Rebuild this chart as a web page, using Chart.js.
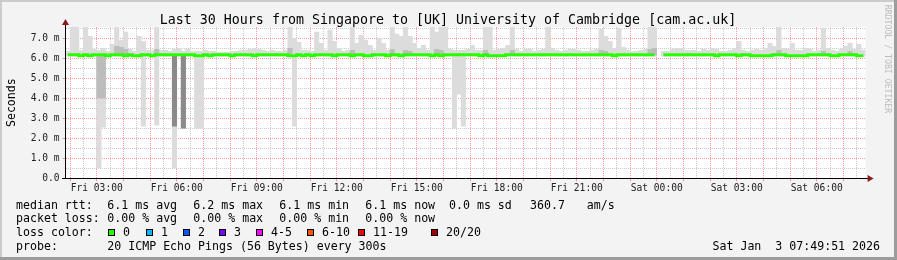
<!DOCTYPE html>
<html>
<head>
<meta charset="utf-8">
<script src="https://cdn.jsdelivr.net/npm/chart.js@4.4.1/dist/chart.umd.min.js"></script>
<style>
    html, body { margin: 0; padding: 0; background: #f3f3f3; }
    #smoke_canvas { display: block; }
</style>
</head>
<body>
<canvas id="smoke_canvas" width="897" height="260"></canvas>
<script>
// 10 minute slots, first one starts Fri 01:50 (minutes counted from Fri 00:00)
const first_slot_minute = 110;
const slot_minutes = 10;
const range_minutes = [110, 1910];

// median rtt per slot (ms)
const median_ms = [
    6.17, 6.17, 6.17, 6.12, 6.17, 6.12, 6.17, 6.17, 6.17, 6.12,
    6.17, 6.17, 6.17, 6.12, 6.17, 6.12, 6.12, 6.17, 6.17, 6.12,
    6.17, 6.17, 6.17, 6.17, 6.17, 6.17, 6.17, 6.17, 6.17, 6.12,
    6.12, 6.17, 6.12, 6.17, 6.17, 6.17, 6.17, 6.12, 6.17, 6.17,
    6.17, 6.17, 6.12, 6.17, 6.17, 6.17, 6.17, 6.17, 6.17, 6.17,
    6.12, 6.12, 6.17, 6.12, 6.17, 6.12, 6.17, 6.17, 6.17, 6.17,
    6.12, 6.17, 6.17, 6.17, 6.12, 6.17, 6.17, 6.12, 6.12, 6.17,
    6.17, 6.17, 6.12, 6.17, 6.17, 6.12, 6.17, 6.17, 6.17, 6.17,
    6.17, 6.17, 6.12, 6.17, 6.12, 6.17, 6.17, 6.17, 6.17, 6.17,
    6.17, 6.17, 6.17, 6.12, 6.17, 6.12, 6.12, 6.12, 6.12, 6.17,
    6.17, 6.17, 6.17, 6.17, 6.17, 6.17, 6.17, 6.17, 6.17, 6.17,
    6.17, 6.17, 6.17, 6.17, 6.17, 6.17, 6.17, 6.17, 6.17, 6.17,
    6.17, 6.17, 6.17, 6.12, 6.17, 6.17, 6.17, 6.17, 6.17, 6.17,
    6.17, 6.17, 6.17, null, 6.17, 6.17, 6.17, 6.17, 6.17, 6.17,
    6.17, 6.17, 6.17, 6.17, 6.17, 6.17, 6.12, 6.17, 6.17, 6.17,
    6.17, 6.12, 6.17, 6.17, 6.12, 6.12, 6.12, 6.12, 6.12, 6.17,
    6.17, 6.17, 6.12, 6.12, 6.12, 6.12, 6.12, 6.17, 6.17, 6.17,
    6.17, 6.17, 6.12, 6.12, 6.17, 6.17, 6.17, 6.17, 6.12, 6.12
];

// highest ping per slot (ms), the top of the smoke
const smoke_max = [
    6.35, 7.56, 7.56, 6.40, 7.56, 7.10, 6.45, 6.40, 6.50, 6.35,
    6.70, 7.56, 6.90, 7.30, 6.45, 6.35, 7.10, 6.85, 6.40, 6.40,
    7.56, 6.40, 6.40, 6.35, 6.45, 6.50, 6.35, 6.45, 6.35, 6.35,
    6.35, 6.40, 6.35, 6.35, 6.30, 6.30, 6.30, 6.35, 6.35, 6.40,
    6.40, 6.45, 6.50, 6.45, 6.40, 6.35, 6.40, 6.35, 6.35, 6.40,
    7.56, 7.00, 6.80, 6.40, 6.40, 6.35, 7.30, 6.75, 6.40, 7.40,
    6.85, 6.50, 6.35, 6.40, 7.56, 6.75, 7.15, 6.90, 6.65, 6.40,
    7.00, 6.75, 6.40, 7.56, 7.20, 7.10, 7.56, 7.10, 6.75, 6.50,
    6.65, 6.40, 7.56, 7.30, 7.56, 7.56, 6.45, 6.40, 6.40, 6.40,
    6.45, 6.65, 6.40, 6.40, 7.56, 7.56, 6.40, 6.45, 6.50, 6.65,
    7.56, 6.45, 6.35, 6.45, 6.45, 6.35, 6.40, 6.45, 7.56, 6.50,
    6.40, 6.35, 6.40, 6.45, 6.45, 6.40, 6.35, 6.35, 6.40, 6.45,
    7.45, 7.10, 6.85, 6.50, 7.50, 6.55, 6.40, 6.35, 6.35, 6.40,
    6.45, 7.56, 7.56, null, 6.35, 6.35, 6.45, 6.50, 6.50, 6.40,
    6.40, 6.40, 6.35, 6.45, 6.40, 6.50, 6.45, 6.35, 6.35, 6.40,
    6.50, 6.85, 6.40, 6.35, 6.40, 6.45, 6.40, 6.50, 6.75, 6.60,
    7.56, 6.50, 6.45, 6.75, 6.40, 6.40, 6.50, 6.45, 6.35, 6.40,
    7.50, 6.50, 6.40, 6.35, 6.45, 6.60, 6.75, 6.45, 6.70, 6.40
];

// lowest ping per slot (ms), the bottom of the smoke
const smoke_min = [
    6.10, 6.10, 6.10, 6.10, 6.10, 6.10, 6.10, 0.53, 2.55, 6.10,
    6.10, 6.10, 6.10, 6.10, 6.10, 6.10, 6.10, 2.60, 6.10, 6.10,
    2.65, 6.10, 6.10, 6.10, 0.53, 6.10, 2.50, 6.10, 6.10, 2.50,
    2.50, 6.10, 6.10, 6.10, 6.10, 6.10, 6.10, 6.10, 6.10, 6.10,
    6.10, 6.10, 6.10, 6.10, 6.10, 6.10, 6.10, 6.10, 6.10, 6.10,
    6.10, 2.60, 6.10, 6.10, 6.10, 6.10, 6.10, 6.10, 6.10, 6.10,
    6.10, 6.10, 6.10, 6.10, 6.10, 6.10, 6.10, 6.10, 6.10, 6.10,
    6.10, 6.10, 6.10, 6.10, 6.10, 6.10, 6.10, 6.10, 6.10, 6.10,
    6.10, 6.10, 6.10, 6.10, 6.10, 6.10, 6.10, 2.50, 4.20, 2.60,
    6.10, 6.10, 6.10, 6.10, 6.10, 6.10, 6.10, 6.10, 6.10, 6.10,
    6.10, 6.10, 6.10, 6.10, 6.10, 6.10, 6.10, 6.10, 6.10, 6.10,
    6.10, 6.10, 6.10, 6.10, 6.10, 6.10, 6.10, 6.10, 6.10, 6.10,
    6.10, 6.10, 6.10, 6.10, 6.10, 6.10, 6.10, 6.10, 6.10, 6.10,
    6.10, 6.10, 6.10, null, 6.10, 6.10, 6.10, 6.10, 6.10, 6.10,
    6.10, 6.10, 6.10, 6.10, 6.10, 6.10, 6.10, 6.10, 6.10, 6.10,
    6.10, 6.10, 6.10, 6.10, 6.10, 6.10, 6.10, 6.10, 6.10, 6.10,
    6.10, 6.10, 6.10, 6.10, 6.10, 6.10, 6.10, 6.10, 6.10, 6.10,
    6.10, 6.10, 6.10, 6.10, 6.10, 6.10, 6.10, 6.10, 6.10, 6.10
];

// inner (denser) smoke, only where it stands out
const inner_slots = [7, 8, 11, 12, 13, 20, 50, 64, 73, 76, 77, 83, 84, 94, 100, 120, 121, 131, 132, 160, 170, 176];
const inner_low   = [4.00, 4.00, 6.15, 6.15, 6.15, 6.15, 6.15, 6.15, 6.15, 6.15, 6.15, 6.15, 6.15, 6.15, 6.15, 6.15, 6.15, 6.15, 6.15, 6.15, 6.15, 6.15];
const inner_high  = [6.15, 6.15, 6.60, 6.55, 6.45, 6.45, 6.50, 6.40, 6.45, 6.40, 6.35, 6.45, 6.40, 6.40, 6.40, 6.40, 6.35, 6.45, 6.50, 6.40, 6.35, 6.35];

// core smoke that dropped away with the median
const core_slots = [24, 26];
const core_low   = [2.60, 2.50];
const core_high  = [6.15, 6.15];

const loss_labels = ["0", "1", "2", "3", "4-5", "6-10", "11-19", "20/20"];
const loss_colors = ["#26ff00", "#00b8ff", "#0059ff", "#7e00ff", "#ff00ff", "#ff5500", "#ff0000", "#a10000"];

const title_text = "Last 30 Hours from Singapore to [UK] University of Cambridge [cam.ac.uk]";
const rtt_stats = ["6.1 ms avg", "6.2 ms max", "6.1 ms min", "6.1 ms now", "0.0 ms sd", "360.7", "am/s"];
const loss_stats = ["0.00 % avg", "0.00 % max", "0.00 % min", "0.00 % now"];
const probe_text = "20 ICMP Echo Pings (56 Bytes) every 300s";
const stamp_text = "Sat Jan  3 07:49:51 2026";

const mono = '"DejaVu Sans Mono", monospace';
const major_grid = "rgba(255, 0, 0, 0.38)";
const minor_grid = "rgba(128, 128, 128, 0.42)";

function slot_center(i){
    return first_slot_minute + slot_minutes * i + slot_minutes / 2;
}

function pad2(n){
    return (n < 10 ? "0" : "") + n;
}

function time_label(minute){
    let day = minute < 1440 ? "Fri" : "Sat";
    let m = minute % 1440;
    return day + " " + pad2(Math.floor(m / 60)) + ":" + pad2(m % 60);
}

function band_points(slots, lows, highs){
    let pts = [];
    for (let k = 0; k < slots.length; k++){
        pts.push({x: slot_center(slots[k]), y: [lows[k], highs[k]]});
    }
    return pts;
}

function build_datasets(){
    let smoke_pts = [];
    let median_pts = [];
    for (let i = 0; i < median_ms.length; i++){
        if (smoke_min[i] != null){
            smoke_pts.push({x: slot_center(i), y: [smoke_min[i], smoke_max[i]]});
        }
        median_pts.push({x: slot_center(i), y: median_ms[i]});
    }
    let bar_common = {
        type: "bar",
        grouped: false,
        borderWidth: 0,
        borderSkipped: false,
        barPercentage: 1.0,
        categoryPercentage: 1.0
    };
    return [
        Object.assign({label: "smoke", data: smoke_pts, backgroundColor: "#dcdcdc", order: 3}, bar_common),
        Object.assign({label: "inner", data: band_points(inner_slots, inner_low, inner_high), backgroundColor: "#bdbdbd", order: 2}, bar_common),
        Object.assign({label: "core", data: band_points(core_slots, core_low, core_high), backgroundColor: "#8a8a8a", order: 1}, bar_common),
        {
            type: "line",
            label: "median rtt",
            data: median_pts,
            borderColor: loss_colors[0],
            borderWidth: 3,
            pointRadius: 0,
            stepped: "middle",
            spanGaps: false,
            order: 0
        }
    ];
}

const frame_plugin = {
    id: "smokeping_frame",
    beforeDraw(chart){
        let ctx = chart.ctx;
        let area = chart.chartArea;
        ctx.save();
        ctx.fillStyle = "#f3f3f3";
        ctx.fillRect(0, 0, chart.width, chart.height);
        ctx.fillStyle = "#ffffff";
        ctx.fillRect(area.left, area.top, area.right - area.left, area.bottom - area.top);
        ctx.restore();
    },
    afterDraw(chart){
        let ctx = chart.ctx;
        let area = chart.chartArea;
        let y0 = Math.round(chart.scales.y.getPixelForValue(0)) + 0.5;
        let x0 = Math.round(area.left) - 0.5;
        ctx.save();

        // axes with arrows
        ctx.strokeStyle = "#000000";
        ctx.lineWidth = 1;
        ctx.beginPath();
        ctx.moveTo(x0, y0);
        ctx.lineTo(x0, 24);
        ctx.moveTo(62, y0);
        ctx.lineTo(area.right + 3, y0);
        ctx.stroke();
        ctx.fillStyle = "#8b1a1a";
        ctx.beginPath();
        ctx.moveTo(x0, 19);
        ctx.lineTo(x0 - 3.5, 25);
        ctx.lineTo(x0 + 3.5, 25);
        ctx.closePath();
        ctx.fill();
        ctx.beginPath();
        ctx.moveTo(area.right + 8, y0);
        ctx.lineTo(area.right + 2, y0 - 3.5);
        ctx.lineTo(area.right + 2, y0 + 3.5);
        ctx.closePath();
        ctx.fill();

        // title and axis label
        ctx.fillStyle = "#000000";
        ctx.font = "13.3px " + mono;
        ctx.textAlign = "center";
        ctx.textBaseline = "alphabetic";
        ctx.fillText(title_text, 448, 24);

        ctx.save();
        ctx.font = "11.6px " + mono;
        ctx.translate(15, (area.top + area.bottom) / 2);
        ctx.rotate(-Math.PI / 2);
        ctx.fillText("Seconds", 0, 0);
        ctx.restore();

        ctx.save();
        ctx.fillStyle = "#bdbdbd";
        ctx.font = "8.2px " + mono;
        ctx.translate(885, 59);
        ctx.rotate(Math.PI / 2);
        ctx.fillText("RRDTOOL / TOBI OETIKER", 0, 0);
        ctx.restore();

        // legend block
        ctx.font = "11.6px " + mono;
        ctx.textAlign = "left";
        let cols = [107.3, 193.3, 279.3, 365.3, 449, 530, 586.7];
        let rows = [208.5, 222.2, 236, 249.6];
        ctx.fillText("median rtt:", 16, rows[0]);
        rtt_stats.forEach((s, k) => ctx.fillText(s, cols[k], rows[0]));
        ctx.fillText("packet loss:", 16, rows[1]);
        loss_stats.forEach((s, k) => ctx.fillText(s, cols[k], rows[1]));
        ctx.fillText("loss color:", 16, rows[2]);
        let box_x = [108, 146, 183, 219, 256, 307, 358, 431];
        loss_labels.forEach((s, k) => {
            ctx.fillStyle = loss_colors[k];
            ctx.fillRect(box_x[k], 229, 7, 7);
            ctx.strokeStyle = "#000000";
            ctx.strokeRect(box_x[k] + 0.5, 229.5, 6, 6);
            ctx.fillStyle = "#000000";
            ctx.fillText(s, box_x[k] + 15, rows[2]);
        });
        ctx.fillText("probe:", 16, rows[3]);
        ctx.fillText(probe_text, cols[0], rows[3]);
        ctx.textAlign = "right";
        ctx.fillText(stamp_text, 880, rows[3]);

        // image frame
        ctx.fillStyle = "#cbcbcb";
        ctx.fillRect(0, 0, chart.width, 2);
        ctx.fillRect(0, 0, 2, chart.height);
        ctx.fillStyle = "#9c9c9c";
        ctx.fillRect(chart.width - 3, 0, 3, chart.height);
        ctx.fillRect(0, chart.height - 3, chart.width, 3);
        ctx.restore();
    }
};

function initialize_chart(){
    let canvas = document.getElementById("smoke_canvas");
    let x_ticks = [];
    for (let m = 120; m < range_minutes[1]; m += 30){
        x_ticks.push({value: m});
    }
    let y_ticks = [];
    for (let v = 0; v <= 7.5; v += 0.5){
        y_ticks.push({value: v});
    }

    return new Chart(canvas, {
        type: "bar",
        data: { datasets: build_datasets() },
        plugins: [frame_plugin],
        options: {
            responsive: false,
            animation: false,
            devicePixelRatio: 1,
            layout: { padding: { top: 27, right: 31.4, left: 0, bottom: 0 } },
            plugins: { legend: { display: false }, tooltip: { enabled: false } },
            scales: {
                x: {
                    type: "linear",
                    min: range_minutes[0],
                    max: range_minutes[1],
                    offset: false,
                    afterBuildTicks: (scale) => { scale.ticks = x_ticks.slice(); },
                    afterFit: (scale) => { scale.height = 81.7; },
                    border: { display: false, dash: [1, 1] },
                    grid: {
                        offset: false,
                        color: (c) => (c.tick && c.tick.value % 60 === 0) ? major_grid : minor_grid,
                        tickColor: (c) => (c.tick && c.tick.value % 60 === 0) ? major_grid : "rgba(0,0,0,0)",
                        tickLength: 3
                    },
                    ticks: {
                        autoSkip: false,
                        maxRotation: 0,
                        minRotation: 0,
                        padding: 1,
                        color: "#222222",
                        font: { family: mono, size: 9.6 },
                        callback: (v) => v % 180 === 0 ? time_label(v) : ""
                    }
                },
                y: {
                    type: "linear",
                    min: 0,
                    max: 7.56,
                    afterBuildTicks: (scale) => { scale.ticks = y_ticks.slice(); },
                    afterFit: (scale) => { scale.width = 65.6; },
                    border: { display: false, dash: [1, 1] },
                    grid: {
                        color: (c) => (c.tick && c.tick.value % 1 === 0) ? major_grid : minor_grid,
                        tickColor: (c) => (c.tick && c.tick.value % 1 === 0) ? major_grid : "rgba(0,0,0,0)",
                        tickLength: 3
                    },
                    ticks: {
                        autoSkip: false,
                        padding: 3,
                        color: "#222222",
                        font: { family: mono, size: 9.6 },
                        callback: (v) => v % 1 !== 0 ? "" : (v === 0 ? "0.0" : v.toFixed(1) + " m")
                    }
                }
            }
        }
    });
}

document.addEventListener("DOMContentLoaded", ()=>{
    initialize_chart();
});
</script>
</body>
</html>
